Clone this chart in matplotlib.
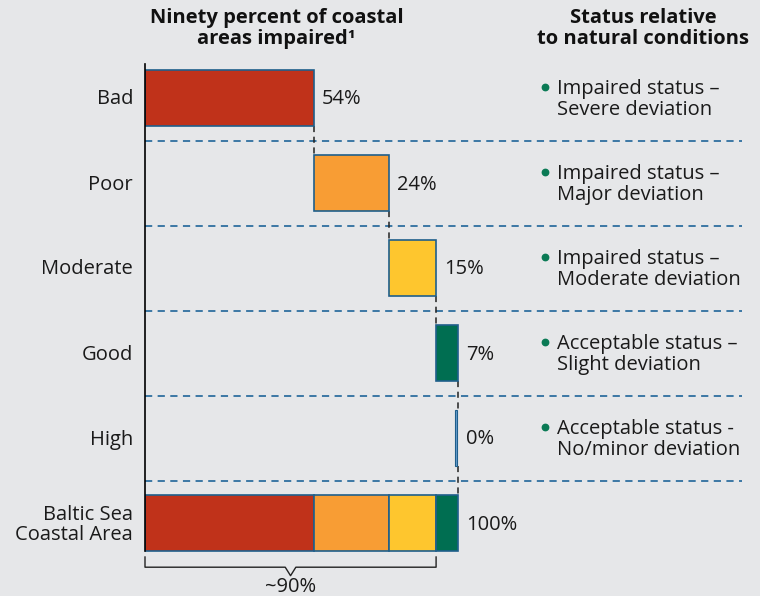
import matplotlib
matplotlib.use("Agg")
import matplotlib.pyplot as plt
from matplotlib.lines import Line2D
import numpy as np

plt.rcParams['font.family'] = ['Open Sans', 'DejaVu Sans']

categories = ["Bad", "Poor", "Moderate", "Good", "High", "Baltic Sea\nCoastal Area"]
values = [54, 24, 15, 7, 0]
colors = ["#c0321a", "#f89d34", "#fec62e", "#006e51", "#6a9fd0"]
status_line1 = ["Impaired status –", "Impaired status –", "Impaired status –",
                "Acceptable status –", "Acceptable status -"]
status_line2 = ["Severe deviation", "Major deviation", "Moderate deviation",
                "Slight deviation", "No/minor deviation"]
total_label = "100%"
bracket_label = "~90%"
impaired_n = 3  # first three categories

W, H = 760, 596
BG = "#e6e7e9"
EDGE = "#1f5f8b"
SEP = "#2f6f9f"
TXT = "#1a1a1a"
FS = 14.5

fig = plt.figure(figsize=(W / 100, H / 100), dpi=100, facecolor=BG)

# axes in pixel coordinates
ax_left, ax_right = 145, 742
ax_top, ax_bottom = 55.5, 596
ax = fig.add_axes([ax_left / W, 1 - ax_bottom / H, (ax_right - ax_left) / W, (ax_bottom - ax_top) / H])
ax.set_facecolor(BG)
px_per_unit = 3.13
ax.set_xlim(0, (ax_right - ax_left) / px_per_unit)
row_px = 85
ax.set_ylim((ax_bottom - 98) / row_px, -(98 - ax_top) / row_px)
ax.axis('off')

def dy(px):
    return px / row_px

bh = 0.66
cum = np.concatenate([[0], np.cumsum(values)])
n = len(values)

# waterfall bars
for i, v in enumerate(values):
    if v > 0:
        ax.barh(i, v, left=cum[i], height=bh, color=colors[i], edgecolor=EDGE, linewidth=1.2, zorder=3)
    else:
        ax.barh(i, 0.7, left=cum[i] - 0.9, height=bh, color=colors[i], edgecolor=EDGE, linewidth=0.8, zorder=3)
    ax.text(cum[i + 1] + 2.6, i + dy(6.5), f"{v}%", va='baseline', ha='left', fontsize=FS, color=TXT)

# total stacked bar
for i, v in enumerate(values):
    if v > 0:
        ax.barh(n, v, left=cum[i], height=bh, color=colors[i], edgecolor=EDGE, linewidth=1.2, zorder=3)
ax.text(cum[-1] + 2.6, n + dy(6.5), total_label, va='baseline', ha='left', fontsize=FS, color=TXT)

# connectors
for i in range(n):
    ax.plot([cum[i + 1], cum[i + 1]], [i + bh / 2, i + 1 - bh / 2], color='#222222',
            linewidth=1.1, linestyle=(0, (4, 3)), zorder=2)

# separators
for i in range(n):
    ax.axhline(i + 0.5, color=SEP, linewidth=1.3, linestyle=(0, (4, 3)), zorder=1)

# left axis line
ax.plot([0, 0], [-0.4, n + bh / 2], color='black', linewidth=1.2, zorder=4, clip_on=False)

# category labels
for i, c in enumerate(categories):
    lines = c.split("\n")
    if len(lines) == 1:
        ax.text(-3.8, i + dy(6.5), c, ha='right', va='baseline', fontsize=FS, color=TXT)
    else:
        ax.text(-3.8, i + dy(-3.5), lines[0], ha='right', va='baseline', fontsize=FS, color=TXT)
        ax.text(-3.8, i + dy(17), lines[1], ha='right', va='baseline', fontsize=FS, color=TXT)

# bracket under impaired share
b_end = cum[impaired_n]
mid = b_end / 2
y0, y1, y2 = n + 0.4, n + 0.52, n + 0.62
ax.plot([0, 0, mid - 1.7, mid, mid + 1.7, b_end, b_end],
        [y0, y1, y1, y2, y1, y1, y0], color='#222222', linewidth=1.0, clip_on=False)
ax.text(mid, n + dy(69), bracket_label, ha='center', va='baseline', fontsize=FS, color=TXT)

# titles
TFS = 14.5
fig.text(276.5 / W, 1 - 23 / H, "Ninety percent of coastal", ha='center', va='baseline',
         fontsize=TFS, fontweight='bold', color='#111111')
fig.text(276.5 / W, 1 - 44 / H, "areas impaired¹", ha='center', va='baseline',
         fontsize=TFS, fontweight='bold', color='#111111')
fig.text(643 / W, 1 - 23 / H, "Status relative", ha='center', va='baseline',
         fontsize=TFS, fontweight='bold', color='#111111')
fig.text(643 / W, 1 - 44 / H, "to natural conditions", ha='center', va='baseline',
         fontsize=TFS, fontweight='bold', color='#111111')

# status texts
for i in range(n):
    yc = 98 + row_px * i
    fig.add_artist(Line2D([545 / W], [1 - (yc - 11) / H], marker='o', markersize=4.6,
                          color='#0b7a55', linestyle='none', transform=fig.transFigure))
    fig.text(557 / W, 1 - (yc - 4) / H, status_line1[i], ha='left', va='baseline', fontsize=FS, color=TXT)
    fig.text(557 / W, 1 - (yc + 17) / H, status_line2[i], ha='left', va='baseline', fontsize=FS, color=TXT)

fig.savefig("out.png", dpi=100, facecolor=BG)
